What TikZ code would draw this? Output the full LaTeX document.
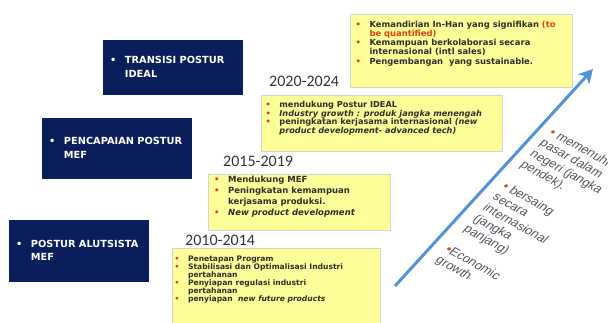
\documentclass[tikz,border=0pt]{standalone}
\usepackage{fontspec}
\setmainfont{DejaVu Sans}
\newfontfamily\yearfont{Carlito}
\newfontfamily\effectfont{Liberation Sans}
\usepackage{xcolor}
\usepackage{tikz}
\usetikzlibrary{
  positioning,
  arrows.meta
}

\definecolor{navy}{RGB}{10,30,92}
\definecolor{noteyellow}{RGB}{255,255,153}
\definecolor{bulletred}{RGB}{228,58,36}
\definecolor{quantred}{RGB}{226,62,12}
\definecolor{arrowblue}{RGB}{82,146,214}
\definecolor{notegray}{RGB}{45,45,45}
\definecolor{effectgray}{RGB}{92,82,96}

\newcommand{\bul}{\textcolor{bulletred}{\textbullet}}
\newcommand{\bullets}[1]{\begin{tabular}{@{}l@{\hspace{8.5pt}}l@{}}#1\end{tabular}}

\tikzset{
  phase/.style={fill=navy, text=white, anchor=north west, align=left,
    inner xsep=7pt, inner ysep=0pt, font=\bfseries\fontsize{9.8}{13.7}\selectfont},
  planbox/.style={draw=gray!35, fill=noteyellow, anchor=north west, inner sep=0pt},
  plantext/.style={inner sep=0pt, align=left, text=notegray},
  yearlabel/.style={inner sep=0pt, text=black!80,
    font=\yearfont\fontsize{16}{18}\selectfont},
  effect/.style={rotate=-29, xslant=0.235, anchor=north west, inner sep=0pt,
    align=left, text=effectgray, font=\effectfont\fontsize{12.5}{14}\selectfont},
  growth/.style={line width=3pt, draw=arrowblue,
    -{Stealth[length=14pt, width=15pt, inset=4pt]}}
}

\begin{document}
\begin{tikzpicture}[x=1pt, y=-1pt]
  \useasboundingbox (0,0) rectangle (608,323);

  % the three phases, dark boxes on the left
  \node[phase, text width=126pt, minimum height=55pt] (ideal) at (103,40)
    {\bullets{\textbullet & TRANSISI POSTUR\\ & IDEAL}};
  \node[phase, text width=136pt, minimum height=61pt] (mef) at (42,118)
    {\bullets{\textbullet & PENCAPAIAN POSTUR\\ & MEF}};
  \node[phase, text width=126pt, minimum height=62pt] (alutsista) at (9,220)
    {\bullets{\textbullet & POSTUR ALUTSISTA\\ & MEF}};

  % the plans, yellow notes
  \node[planbox, minimum width=222pt, minimum height=73pt] (goal) at (350,14) {};
  \node[plantext, font=\bfseries\fontsize{8.4}{9.2}\selectfont,
    below right=6.6pt and 5.5pt of goal.north west] (goaltext)
    {\bullets{\bul & Kemandirian In-Han yang signifikan \textcolor{quantred}{(to}\\
     & \textcolor{quantred}{be quantified)}\\
     \bul & Kemampuan berkolaborasi secara\\
     & internasional (intl sales)\\
     \bul & Pengembangan~ yang sustainable.}};

  \node[planbox, minimum width=241pt, minimum height=56pt] (plan2020) at (261,95) {};
  \node[yearlabel, above right=8pt and 8pt of plan2020.north west] (year2020) {2020-2024};
  \node[plantext, font=\bfseries\fontsize{8.2}{8.5}\selectfont,
    below right=6pt and 4.5pt of plan2020.north west] (plan2020text)
    {\bullets{\bul & mendukung Postur IDEAL\\
     \bul & \textit{Industry growth : produk jangka menengah}\\
     \bul & peningkatan kerjasama internasional \textit{(new}\\
     & \textit{product development- advanced tech)}}};

  \node[planbox, minimum width=182pt, minimum height=56pt] (plan2015) at (208,174) {};
  \node[yearlabel, above right=7pt and 15pt of plan2015.north west] (year2015) {2015-2019};
  \node[plantext, font=\bfseries\fontsize{8.5}{10.8}\selectfont,
    below right=1.2pt and 6pt of plan2015.north west] (plan2015text)
    {\bullets{\bul & Mendukung MEF\\
     \bul & Peningkatan kemampuan\\
     & kerjasama produksi.\\
     \bul & \textit{New product development}}};

  \node[planbox, minimum width=208pt, minimum height=90pt] (plan2010) at (172,248) {};
  \node[yearlabel, above right=2.3pt and 13pt of plan2010.north west] (year2010) {2010-2014};
  \node[plantext, font=\bfseries\fontsize{7.6}{7.9}\selectfont,
    below right=7.5pt and 2.5pt of plan2010.north west] (plan2010text)
    {\bullets{\bul & Penetapan Program\\
     \bul & Stabilisasi dan Optimalisasi Industri\\
     & pertahanan\\
     \bul & Penyiapan regulasi industri\\
     & pertahanan\\
     \bul & penyiapan~ \textit{new future products}}};

  % growth arrow
  \coordinate (growthstart) at (395,286);
  \coordinate (growthend) at (593,69);
  \draw[growth] (growthstart) -- (growthend);

  % aims along the arrow
  \node[effect] (domestic) at (554.7,127.2)
    {\bul\ memenuhi\\pasar dalam\\negeri (jangka\\pendek).};
  \node[effect] (abroad) at (507.7,181.2)
    {\bul\ bersaing\\secara\\internasional\\(jangka\\panjang)};
  \node[effect] (economy) at (450.7,244.2) {\bul Economic\\growth};
\end{tikzpicture}
\end{document}
